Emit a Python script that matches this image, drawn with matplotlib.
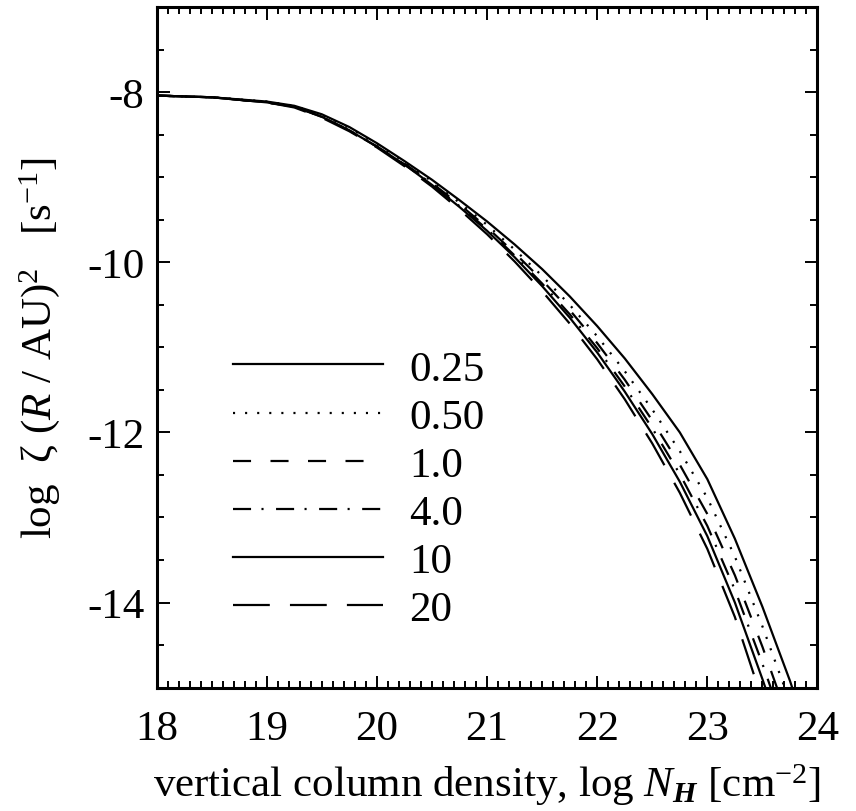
import matplotlib
matplotlib.use('Agg')
import matplotlib.pyplot as plt
from matplotlib.ticker import MultipleLocator

plt.rcParams['font.family'] = ['Liberation Serif', 'DejaVu Serif']
plt.rcParams['mathtext.fontset'] = 'custom'
plt.rcParams['mathtext.rm'] = 'Liberation Serif'
plt.rcParams['mathtext.it'] = 'Liberation Serif:italic'
plt.rcParams['mathtext.bf'] = 'Liberation Serif:bold:italic'
plt.rcParams['axes.unicode_minus'] = False
plt.rcParams['lines.scale_dashes'] = False

# log N_H grid and log zeta (R/AU)^2 for each labelled case
log_nh = [18.0, 18.5, 19.0, 19.25, 19.5, 19.75, 20.0, 20.25, 20.5, 20.75, 21.0, 21.25,
          21.5, 21.75, 22.0, 22.25, 22.5, 22.75, 23.0, 23.25, 23.5, 23.75, 24.0]
z_025 = [-8.04, -8.06, -8.11, -8.16, -8.26, -8.41, -8.60, -8.81, -9.03, -9.27, -9.52, -9.79,
         -10.08, -10.40, -10.75, -11.13, -11.55, -12.00, -12.55, -13.25, -14.05, -14.92, -15.9]
z_050 = [-8.04, -8.06, -8.11, -8.16, -8.27, -8.42, -8.61, -8.82, -9.05, -9.30, -9.56, -9.85,
         -10.16, -10.50, -10.87, -11.28, -11.73, -12.22, -12.77, -13.46, -14.28, -15.17, -16.1]
z_1 = [-8.04, -8.06, -8.12, -8.17, -8.29, -8.45, -8.64, -8.84, -9.07, -9.32, -9.59, -9.89,
       -10.21, -10.56, -10.95, -11.38, -11.86, -12.38, -12.96, -13.68, -14.52, -15.43, -16.4]
z_4 = [-8.04, -8.06, -8.12, -8.17, -8.29, -8.45, -8.64, -8.85, -9.08, -9.34, -9.61, -9.92,
       -10.25, -10.61, -11.01, -11.46, -11.95, -12.49, -13.10, -13.85, -14.72, -15.65, -16.6]
z_10 = [-8.04, -8.06, -8.12, -8.17, -8.29, -8.45, -8.64, -8.85, -9.09, -9.35, -9.63, -9.94,
        -10.28, -10.65, -11.06, -11.52, -12.02, -12.58, -13.22, -14.00, -14.90, -15.85, -16.8]
z_20 = [-8.04, -8.06, -8.12, -8.18, -8.30, -8.46, -8.65, -8.87, -9.11, -9.38, -9.67, -9.99,
        -10.34, -10.72, -11.14, -11.61, -12.13, -12.71, -13.37, -14.17, -15.15, -16.05, -17.0]

labels = ['0.25', '0.50', '1.0', '4.0', '10', '20']
series = [z_025, z_050, z_1, z_4, z_10, z_20]
styles = ['-', (0, (1.5, 7.2)), (0, (13, 14)), (0, (13, 7.5, 1.5, 9)), '-', (0, (26.5, 14.5))]

fig = plt.figure(figsize=(8.56, 8.12), dpi=100)
ax = fig.add_axes([0.183, 0.152, 0.772, 0.838])

for z, lab, ls in zip(series, labels, styles):
    ax.plot(log_nh, z, color='black', linewidth=1.6, linestyle=ls, label=lab)

ax.set_xlim(18, 24)
ax.set_ylim(-15, -7)
ax.xaxis.set_major_locator(MultipleLocator(1))
ax.xaxis.set_minor_locator(MultipleLocator(0.1))
ax.yaxis.set_major_locator(MultipleLocator(2))
ax.yaxis.set_minor_locator(MultipleLocator(0.5))
ax.tick_params(which='both', direction='in', top=True, right=True, width=1.4, labelsize=31)
ax.tick_params(which='major', length=9)
ax.tick_params(which='minor', length=5)
ax.tick_params(axis='x', pad=16)
ax.tick_params(axis='y', pad=9)
for sp in ax.spines.values():
    sp.set_linewidth(2.2)

ax.set_xlabel(r'vertical column density, log $N_\mathbf{H}$ [cm$^{-2}$]', fontsize=31)
ax.set_ylabel(r'log  ζ ($R$ / AU)$^2$   [s$^{-1}$]', fontsize=31)
ax.xaxis.label.set_va('center')
ax.yaxis.label.set_va('center')
ax.xaxis.set_label_coords(0.5, -0.142)
ax.yaxis.set_label_coords(-0.178, 0.5)

ax.legend(loc='upper left', bbox_to_anchor=(0.115, 0.497), frameon=False, fontsize=31,
          handlelength=3.5, handletextpad=0.6, labelspacing=0.21, borderpad=0, borderaxespad=0)

fig.savefig('out.png', dpi=100)
